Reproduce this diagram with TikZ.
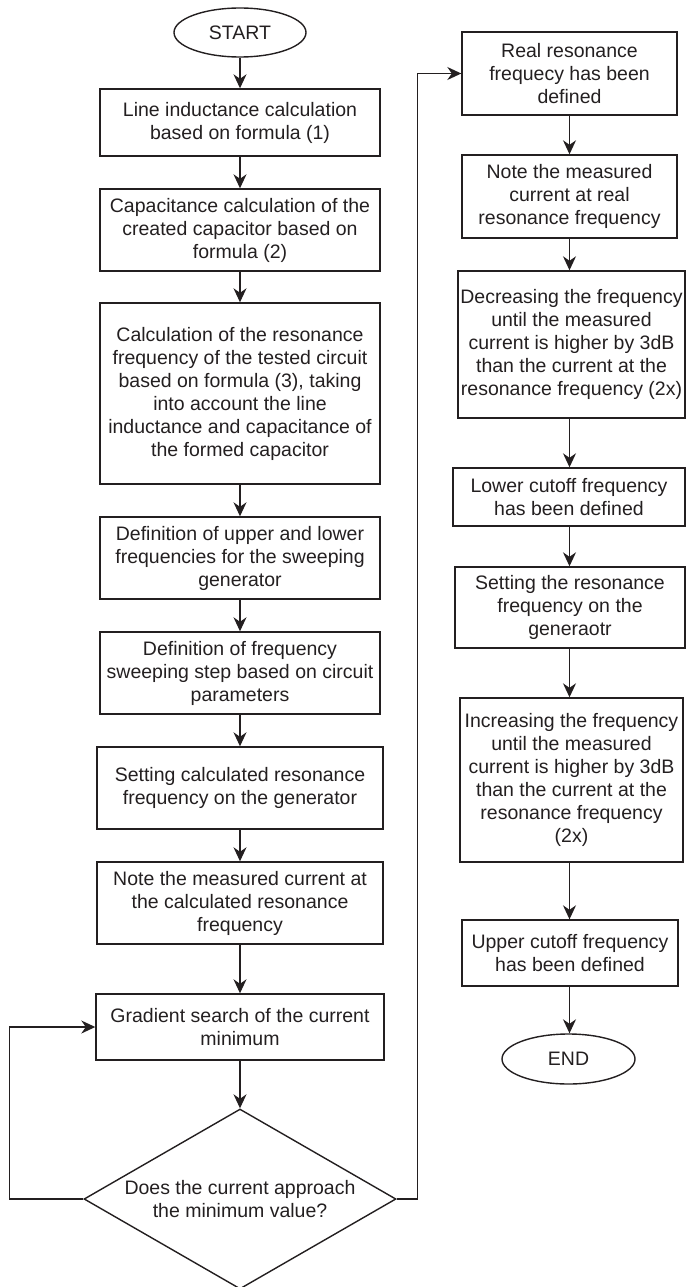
\documentclass[tikz,border=0pt]{standalone}
\usepackage{fontspec}
\setmainfont{Liberation Sans}
\usetikzlibrary{shapes.geometric,arrows.meta}
\definecolor{ink}{HTML}{231F20}
\begin{document}
\begin{tikzpicture}[x=1pt,y=-1pt,
  every node/.style={font=\fontsize{19.5}{23}\selectfont, text=ink},
  box/.style={draw=ink, line width=1.4pt, rectangle, align=center, inner sep=0pt},
  term/.style={draw=ink, line width=1.4pt, ellipse, inner sep=0pt, minimum width=132pt, minimum height=49pt},
  decision/.style={draw=ink, line width=1.4pt, diamond, shape aspect=1.733, inner sep=0pt, align=center, minimum width=312pt, minimum height=180pt},
  arr/.style={draw=ink, line width=1.4pt, -{Stealth[length=14pt,width=13pt,inset=4.5pt]}}]
\useasboundingbox (0,0) rectangle (686,1287);
% left column
\node[term] (start) at (240,32.5) {START};
\node[box, minimum width=280pt, minimum height=67pt] (b1) at (240,122.5) {Line inductance calculation\\based on formula (1)};
\node[box, minimum width=280pt, minimum height=82pt] (b2) at (240,230) {Capacitance calculation of the\\created capacitor based on\\formula (2)};
\node[box, minimum width=280pt, minimum height=181pt] (b3) at (240,393.5) {Calculation of the resonance\\frequency of the tested circuit\\based on formula (3), taking\\into account the line\\inductance and capacitance of\\the formed capacitor};
\node[box, minimum width=280pt, minimum height=82pt] (b4) at (240,558) {Definition of upper and lower\\frequencies for the sweeping\\generator};
\node[box, minimum width=280pt, minimum height=82pt] (b5) at (240,673) {Definition of frequency\\sweeping step based on circuit\\parameters};
\node[box, minimum width=286pt, minimum height=82pt] (b6) at (240,788) {Setting calculated resonance\\frequency on the generator};
\node[box, minimum width=286pt, minimum height=82pt] (b7) at (240,903) {Note the measured current at\\the calculated resonance\\frequency};
\node[box, minimum width=288pt, minimum height=66pt] (b8) at (240,1027) {Gradient search of the current\\minimum};
\node[decision] (dec) at (240,1199) {Does the current approach\\the minimum value?};
% right column
\node[box, minimum width=215pt, minimum height=83pt] (r1) at (569.5,73.5) {Real resonance\\frequecy has been\\defined};
\node[box, minimum width=215pt, minimum height=83pt] (r2) at (569.5,196.5) {Note the measured\\current at real\\resonance frequency};
\node[box, minimum width=227pt, minimum height=147pt] (r3) at (571.5,344.5) {Decreasing the frequency\\until the measured\\current is higher by 3dB\\than the current at the\\resonance frequency (2x)};
\node[box, minimum width=232pt, minimum height=58pt] (r4) at (569,497) {Lower cutoff frequency\\has been defined};
\node[box, minimum width=230pt, minimum height=81pt] (r5) at (570,607.5) {Setting the resonance\\frequency on the\\generaotr};
\node[box, minimum width=223pt, minimum height=164pt] (r6) at (571.5,780) {Increasing the frequency\\until the measured\\current is higher by 3dB\\than the current at the\\resonance frequency\\(2x)};
\node[box, minimum width=216pt, minimum height=66pt] (r7) at (570,953) {Upper cutoff frequency\\has been defined};
\node[term, minimum width=133pt, minimum height=50pt] (end) at (568.5,1059) {END};
% connectors left
\draw[arr] (start.south) -- (start.south |- b1.north);
\draw[arr] (b1.south) -- (b1.south |- b2.north);
\draw[arr] (b2.south) -- (b2.south |- b3.north);
\draw[arr] (b3.south) -- (b3.south |- b4.north);
\draw[arr] (b4.south) -- (b4.south |- b5.north);
\draw[arr] (b5.south) -- (b5.south |- b6.north);
\draw[arr] (b6.south) -- (b6.south |- b7.north);
\draw[arr] (b7.south) -- (b7.south |- b8.north);
\draw[arr] (b8.south) -- (b8.south |- dec.north);
\draw[arr] (dec.west) -- ++(-74,0) |- (b8.west);
\draw[arr] (dec.east) -- ++(21,0) |- (r1.west);
% connectors right
\draw[arr] (r1.south) -- (r1.south |- r2.north);
\draw[arr] (r2.south) -- (r2.south |- r3.north);
\draw[arr] (r2.south |- r3.south) -- (r2.south |- r4.north);
\draw[arr] (r2.south |- r4.south) -- (r2.south |- r5.north);
\draw[arr] (r2.south |- r5.south) -- (r2.south |- r6.north);
\draw[arr] (r2.south |- r6.south) -- (r2.south |- r7.north);
\draw[arr] (r2.south |- r7.south) -- (r2.south |- end.north);
\end{tikzpicture}
\end{document}
